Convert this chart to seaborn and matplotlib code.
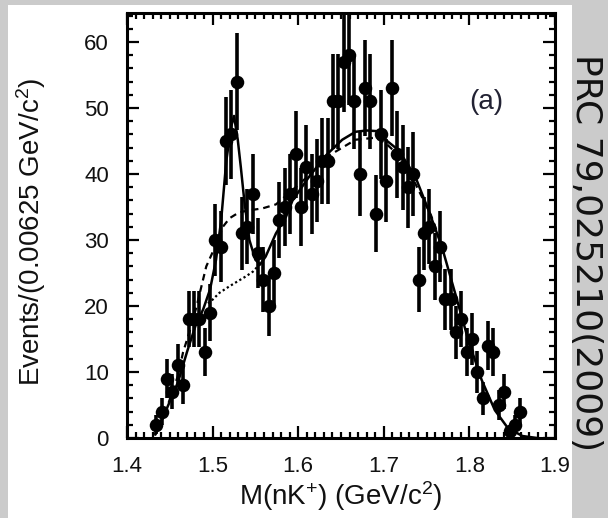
import numpy as np
import matplotlib
matplotlib.use("Agg")
import matplotlib.pyplot as plt
import seaborn as sns
from matplotlib.ticker import MultipleLocator
from matplotlib.patches import Rectangle

# histogram: 0.00625 GeV bins, first filled bin centred at 1.434375
bin_width = 0.00625
first_center = 1.434375
counts = [2, 4, 9, 7, 11, 8, 18, 18, 18, 13,
          19, 30, 29, 45, 46, 54, 31, 32, 37, 28,
          24, 20, 25, 33, 35, 37, 43, 35, 41, 37,
          39, 42, 42, 51, 51, 57, 58, 51, 40, 53,
          51, 34, 46, 39, 53, 43, 41, 38, 40, 24,
          31, 32, 26, 29, 21, 21, 16, 18, 13, 15,
          10, 6, 14, 13, 5, 7, 1, 2, 4]

mass = first_center + bin_width * np.arange(len(counts))
errors = np.sqrt(counts)

# full fit (solid)
fit_x = [1.433, 1.445, 1.4597, 1.470, 1.480, 1.489, 1.497, 1.504, 1.510, 1.516,
         1.5217, 1.525, 1.5294, 1.533, 1.537, 1.543, 1.550, 1.5555, 1.562, 1.574,
         1.5857, 1.5934, 1.6128, 1.6322, 1.6515, 1.667, 1.680, 1.692, 1.702, 1.7174,
         1.7368, 1.7523, 1.7678, 1.7834, 1.7988, 1.8143, 1.8298, 1.845, 1.862, 1.879]
fit_y = [0.5, 4, 8.5, 13, 17, 19.5, 22.5, 27, 33, 42,
         47.2, 48.8, 45.2, 41, 36, 30, 27, 26.3, 27.5, 31,
         33.5, 36, 39.6, 42.8, 45.2, 46.4, 46.6, 46.5, 45.2, 43.6,
         39.6, 34.5, 29, 21.9, 14.8, 8.8, 4.2, 1.5, 0.3, 0]

# alternative fit (dashed)
alt_x = [1.433, 1.445, 1.4597, 1.4655, 1.474, 1.481, 1.4926, 1.504, 1.512, 1.5198,
         1.531, 1.543, 1.5585, 1.574, 1.590, 1.610, 1.636, 1.667, 1.690, 1.702,
         1.720, 1.737, 1.755, 1.770]
alt_y = [0.5, 4, 9.5, 13, 16.5, 19.8, 26, 29.3, 32, 33.3,
         34.2, 34.5, 34.8, 35.4, 37.2, 39.5, 42.8, 45.2, 45.5, 44.7,
         42.5, 38.5, 33.8, 28.5]

# background under the peak (dotted)
bkg_x = [1.4946, 1.5003, 1.508, 1.5198, 1.530, 1.539, 1.547, 1.5527, 1.556]
bkg_y = [20.4, 21, 22, 23, 23.8, 24.5, 25.2, 26, 26.4]

sns.set_theme(style="ticks")
plt.rcParams['font.family'] = ['Liberation Sans', 'DejaVu Sans']
plt.rcParams['mathtext.fontset'] = 'custom'
plt.rcParams['mathtext.rm'] = 'Liberation Sans'
plt.rcParams['mathtext.it'] = 'Liberation Sans:italic'

fig = plt.figure(figsize=(6.08, 5.18), dpi=100, facecolor='#cbcbcb')
fig.add_artist(Rectangle((8 / 608, 0), (572 - 8) / 608, (518 - 5) / 518,
                         transform=fig.transFigure, facecolor='white',
                         edgecolor='none', zorder=-10))
ax = fig.add_axes([127 / 608, 80 / 518, 428 / 608, 425 / 518])
ax.set_facecolor('white')

ax.errorbar(mass, counts, yerr=errors, fmt='none', ecolor='black',
            elinewidth=2.6, capsize=0, zorder=3)
sns.scatterplot(x=mass, y=counts, ax=ax, color='black', s=95,
                linewidth=0, zorder=4)
sns.lineplot(x=fit_x, y=fit_y, ax=ax, color='black', lw=1.8,
             sort=False, estimator=None, zorder=5)
sns.lineplot(x=alt_x, y=alt_y, ax=ax, color='black', lw=1.6,
             sort=False, estimator=None, zorder=5, linestyle=(0, (3, 2.2)))
sns.lineplot(x=bkg_x, y=bkg_y, ax=ax, color='black', lw=1.6,
             sort=False, estimator=None, zorder=5, linestyle=(0, (1, 1.2)))

ax.set_xlim(1.4, 1.9)
ax.set_ylim(0, 64.4)
ax.xaxis.set_major_locator(MultipleLocator(0.1))
ax.xaxis.set_minor_locator(MultipleLocator(0.01))
ax.yaxis.set_major_locator(MultipleLocator(10))
ax.yaxis.set_minor_locator(MultipleLocator(2))
ax.tick_params(which='both', direction='in', top=True, right=True,
               width=1.6, color='black', labelsize=16, pad=13,
               labelcolor='#111111')
ax.tick_params(which='major', length=8.5)
ax.tick_params(which='minor', length=4.5)
for sp in ax.spines.values():
    sp.set_linewidth(2.2)
    sp.set_color('black')

ax.set_xlabel('M(nK$^{+}$) (GeV/c$^{2}$)', fontsize=20, color='#111111')
ax.set_ylabel('Events/(0.00625 GeV/c$^{2}$)', fontsize=20, color='#111111')
ax.xaxis.set_label_coords(0.5, -0.098)
ax.yaxis.set_label_coords(-0.185, 0.486)

ax.text(0.84, 0.79, '(a)', transform=ax.transAxes, fontsize=20,
        color='#222233', ha='center', va='center')

fig.text(586 / 608, 265 / 518, 'PRC 79,025210(2009)', rotation=-90,
         ha='center', va='center', fontsize=26, color='#111111',
         family=['DejaVu Sans'])

fig.savefig('out.png', dpi=100, facecolor=fig.get_facecolor())
